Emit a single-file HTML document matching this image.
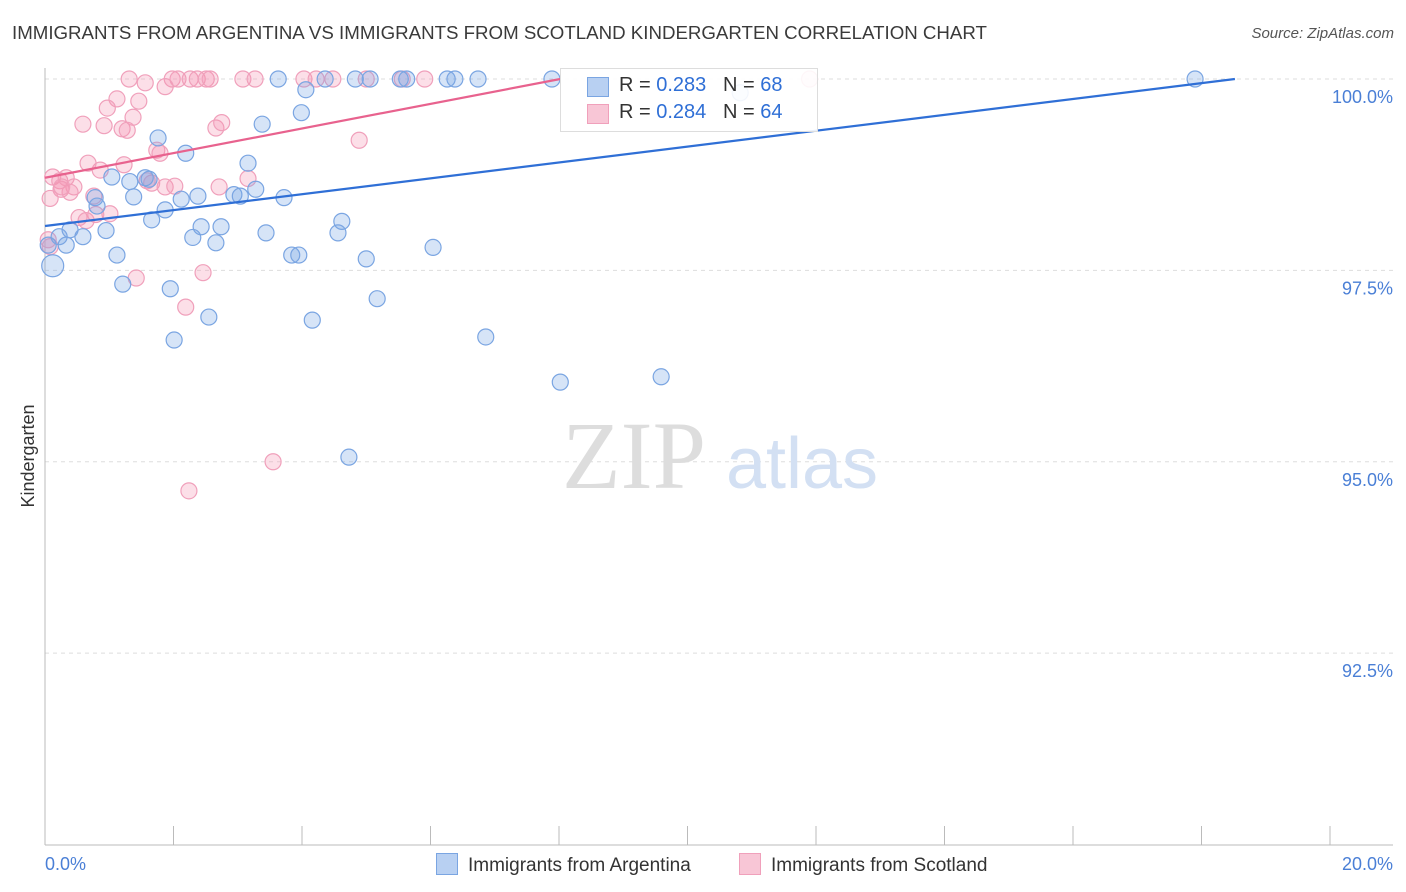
<!DOCTYPE html>
<html><head><meta charset="utf-8"><style>
body{margin:0;background:#fff;font-family:"Liberation Sans",sans-serif;}
#wrap{position:relative;width:1406px;height:892px;overflow:hidden}
.t{position:absolute;white-space:nowrap}
</style></head><body><div id="wrap">
<div class="t" style="left:12px;top:22px;font-size:18.7px;color:#3a3a3a">IMMIGRANTS FROM ARGENTINA VS IMMIGRANTS FROM SCOTLAND KINDERGARTEN CORRELATION CHART</div>
<div class="t" style="right:12px;top:25px;font-size:15px;color:#555;font-style:italic">Source: ZipAtlas.com</div>
<svg id="svg" width="1406" height="892" style="position:absolute;left:0;top:0"></svg>
</div>
<script>
const yTicks=[100,97.5,95,92.5];
const yTickLabels=["100.0%","97.5%","95.0%","92.5%"];
const blueX=[3.63,4.36,4.83,5.06,5.53,5.63,6.26,6.38,6.74,7.89,17.9,4.06,10.82,3.99,3.38,1.76,2.19,3.16,1.04,1.32,1.56,1.62,3.28,2.94,3.04,2.38,3.72,1.38,0.78,0.81,2.12,1.87,1.66,4.62,2.43,2.74,0.95,0.39,3.44,4.56,0.22,0.59,2.30,2.66,6.04,0.33,0.05,1.12,3.84,3.95,5.00,0.12,1.95,1.21,5.17,2.55,4.16,2.01,6.86,8.02,9.59,4.73];
const blueY=[100,100,100,100,100,100,100,100,100,100,100,99.86,99.82,99.56,99.41,99.23,99.03,98.9,98.72,98.66,98.71,98.69,98.56,98.49,98.47,98.47,98.45,98.46,98.45,98.34,98.43,98.29,98.16,98.14,98.07,98.07,98.02,98.03,97.99,97.99,97.94,97.94,97.93,97.86,97.8,97.83,97.83,97.7,97.7,97.7,97.65,97.56,97.26,97.32,97.13,96.89,96.85,96.59,96.63,96.04,96.11,95.06];
const pinkX=[1.31,1.56,1.98,2.07,2.26,2.37,2.51,2.57,3.08,3.27,4.03,4.22,4.48,5.0,5.56,5.91,11.9,1.87,1.12,1.46,0.97,0.59,0.92,2.66,2.75,1.37,1.2,1.28,1.74,1.79,4.89,1.23,0.86,0.67,0.12,0.23,0.33,0.45,0.25,1.66,1.59,1.87,2.02,2.71,3.16,0.08,0.76,0.39,1.01,0.79,0.53,0.64,1.42,2.46,2.19,3.55,2.24,0.08,0.05,0.26];
const pinkY=[100,99.95,100,100,100,100,100,100,100,100,100,100,100,100,100,100,100,99.9,99.74,99.71,99.62,99.41,99.39,99.36,99.43,99.5,99.35,99.33,99.07,99.03,99.2,98.88,98.81,98.9,98.72,98.67,98.71,98.59,98.56,98.64,98.67,98.59,98.6,98.59,98.7,98.44,98.47,98.52,98.24,98.23,98.19,98.15,97.4,97.47,97.02,95.0,94.62,97.81,97.9,98.59];
const blueLine=[98.08,100.0,18.52];
const pinkLine=[98.71,100.0,8.02];
const NS="http://www.w3.org/2000/svg",svg=document.getElementById('svg');
const X0=45,X1=1330,xs=v=>X0+(X1-X0)*v/20;
const ys=v=>79+(100-v)*76.55;
function el(t,a){const e=document.createElementNS(NS,t);for(const k in a)e.setAttribute(k,a[k]);svg.appendChild(e);return e;}
yTicks.forEach((t,i)=>{const g=el('line',{x1:45,x2:1393,y1:ys(t),y2:ys(t),stroke:'#ddd','stroke-dasharray':'4,4'});


const tx=el('text',{x:1393,y:ys(t)+24,'text-anchor':'end','font-size':18,fill:'#4a7fd6'});tx.textContent=yTickLabels[i];

});
const ax=el('line',{x1:45,x2:1393,y1:845,y2:845,stroke:'#bbb'});


const ay=el('line',{x1:45,x2:45,y1:68,y2:845,stroke:'#bbb'});


for(let i=0;i<=10;i++){const tk=el('line',{x1:xs(i*2),x2:xs(i*2),y1:826,y2:845,stroke:'#bbb'});

}
[["0.0%",45,'start'],["20.0%",1393,'end']].forEach(d=>{const t=el('text',{x:d[1],y:870,'text-anchor':d[2],'font-size':18,fill:'#4a7fd6'});t.textContent=d[0];

});
const yl=el('text',{x:34,y:456,'text-anchor':'middle','font-size':18,fill:'#333',transform:'rotate(-90 34 456)'});yl.textContent='Kindergarten';


const w1=el('text',{x:634,y:488,'text-anchor':'middle','font-size':96,fill:'#ddd','font-family':'Liberation Serif'});w1.textContent='ZIP';


const w2=el('text',{x:802,y:488,'text-anchor':'middle','font-size':72,fill:'#d3e0f3'});w2.textContent='atlas';


pinkX.forEach((v,i)=>{const c=el('circle',{cx:xs(v),cy:ys(pinkY[i]),r:8,fill:'rgba(244,150,180,0.3)',stroke:'#f0a0bb','stroke-width':1.2});

});
blueX.forEach((v,i)=>{const c=el('circle',{cx:xs(v),cy:ys(blueY[i]),r:i==51?11:8,fill:'rgba(120,165,230,0.3)',stroke:'#7aa5e2','stroke-width':1.2});

});
const bl=el('line',{x1:xs(0),y1:ys(blueLine[0]),x2:xs(blueLine[2]),y2:ys(blueLine[1]),stroke:'#2f6fd6','stroke-width':2.2});


const pl=el('line',{x1:xs(0),y1:ys(pinkLine[0]),x2:xs(pinkLine[2]),y2:ys(pinkLine[1]),stroke:'#e8628e','stroke-width':2.2});


</script>
<div class="t" style="left:560px;top:68px;width:256px;height:62px;border:1px solid #ddd;background:rgba(255,255,255,0.9);font-size:20px;color:#333">
<div style="position:absolute;left:26px;top:8px;width:20px;height:18px;background:#b8d0f2;border:1px solid #7aa5e2"></div>
<div style="position:absolute;left:58px;top:5px">R = <span style="color:#2f6fd6">0.283</span>&nbsp;&nbsp;&nbsp;N = <span style="color:#2f6fd6">68</span></div>
<div style="position:absolute;left:26px;top:35px;width:20px;height:18px;background:#f8c6d6;border:1px solid #f0a0bb"></div>
<div style="position:absolute;left:58px;top:32px">R = <span style="color:#2f6fd6">0.284</span>&nbsp;&nbsp;&nbsp;N = <span style="color:#2f6fd6">64</span></div>
</div>
<div class="t" style="left:436px;top:853px;font-size:19px;color:#333"><span style="display:inline-block;width:20px;height:20px;background:#b8d0f2;border:1px solid #7aa5e2;vertical-align:-4px;margin-right:10px"></span>Immigrants from Argentina</div>
<div class="t" style="left:739px;top:853px;font-size:19px;color:#333"><span style="display:inline-block;width:20px;height:20px;background:#f8c6d6;border:1px solid #f0a0bb;vertical-align:-4px;margin-right:10px"></span>Immigrants from Scotland</div>
</body></html>
